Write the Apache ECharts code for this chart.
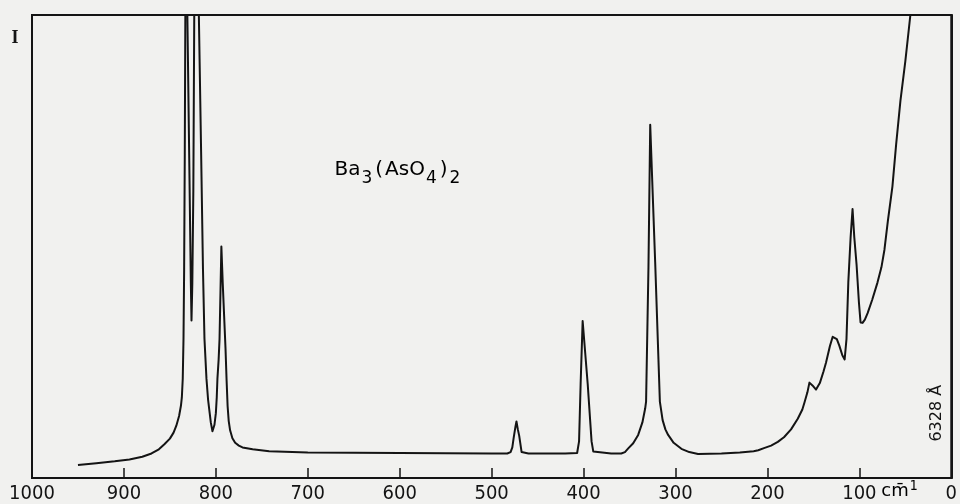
<!DOCTYPE html>
<html><head><meta charset="utf-8">
<script src="https://cdn.jsdelivr.net/npm/echarts@6/dist/echarts.min.js"></script>
<style>html,body{margin:0;padding:0;background:#f1f1ef;} #c{width:960px;height:504px;}</style>
</head><body><div id="c"></div>
<script>
// Raman spectrum of Ba3(AsO4)2, 6328 Å excitation
const wavenumbers = [950, 930, 910, 894, 880, 870, 862, 856, 850, 846, 843, 840, 838, 837, 836, 835.2, 834.5, 833.8, 833.2, 831, 828.5, 827.2, 826.5, 825.6, 824.5, 823.5, 818.5, 816, 814, 812.4, 810.2, 808.5, 807, 805.5, 803.7, 801.5, 800, 799, 798.3, 797, 796, 795, 794, 792.5, 791, 789.5, 788.3, 787.2, 786, 784.5, 782, 779, 775, 771, 760, 742, 700, 600, 500, 483, 479.4, 477.5, 476, 474, 473, 471.5, 470, 468, 467.4, 460, 420, 407, 405.6, 404.9, 403.2, 401, 395.5, 391.3, 389.4, 388, 370, 359, 355, 351.4, 346, 340.6, 336, 333, 332, 329.4, 327.5, 322.1, 317, 314, 311, 308, 302, 293.6, 285, 275.5, 250, 230, 215, 210, 203, 196, 188.7, 182, 174.3, 167, 162, 159.7, 156.5, 154.3, 151, 147.1, 143, 139, 136.3, 132, 129, 127, 124.5, 121.8, 118.5, 116, 114, 112, 109.5, 107.4, 105.5, 103, 100.5, 98.7, 96.5, 94, 91, 86, 80.3, 76, 72.7, 69, 64, 60, 55.3, 50, 44.5, 40];
const intensities = [2.8, 3.2, 3.6, 4.0, 4.6, 5.3, 6.2, 7.3, 8.5, 9.8, 11.3, 13.4, 15.6, 17.4, 21.5, 30, 45, 70, 100, 100, 62, 42, 34, 42, 62, 100, 100, 70, 45, 30.1, 21.4, 17, 14.5, 12, 10.1, 11.5, 14, 17.5, 21.4, 25.5, 30, 40, 50, 42, 35, 28, 21, 15.5, 12.3, 10.3, 8.6, 7.6, 7.0, 6.6, 6.2, 5.8, 5.5, 5.4, 5.3, 5.3, 5.6, 6.6, 8.7, 11.2, 12.2, 10.5, 9.1, 6.4, 5.6, 5.3, 5.3, 5.4, 5.7, 7.9, 20.3, 33.9, 20.3, 7.9, 5.7, 5.4, 5.3, 5.3, 5.6, 6.4, 7.5, 9.3, 12, 15, 16.5, 45.6, 76.3, 46.6, 16.5, 12.5, 10.5, 9.3, 7.6, 6.3, 5.6, 5.2, 5.3, 5.5, 5.8, 6.0, 6.5, 7.0, 7.8, 8.8, 10.5, 12.8, 14.8, 16.3, 18.5, 20.6, 20, 19.1, 20.5, 23, 24.9, 28.5, 30.5, 30.8, 30, 28.6, 26.5, 25.6, 30, 42.3, 52, 58.1, 52, 46, 38, 33.6, 33.5, 34.2, 35.6, 38.5, 42.2, 45.5, 49.3, 55.5, 63, 72, 81.5, 90, 100, 110];
const xTickValues = [0, 100, 200, 300, 400, 500, 600, 700, 800, 900, 1000];
const yAxisName = 'I';
const unitLabel = 'cm\u0304';
const unitSup = '1';
const laserLabel = '6328 Å';
const formulaParts = [['n', 'Ba'], ['s', '3'], ['p', '('], ['n', 'AsO'], ['s', '4'], ['p', ')'], ['s', '2']];

const ink = '#141414';
const numFont = "'Liberation Sans Narrow','DejaVu Sans Condensed','Liberation Sans',sans-serif";
const chart = echarts.init(document.getElementById('c'), null, {renderer: 'canvas'});
chart.setOption({
  animation: false,
  backgroundColor: '#f1f1ef',
  grid: {left: 32, right: 6, top: 15, bottom: 26, show: true, borderColor: ink, borderWidth: 2, backgroundColor: 'transparent'},
  xAxis: {
    type: 'value', min: 0, max: 1000, interval: 100, inverse: true,
    axisLine: {show: true, lineStyle: {color: ink, width: 2}},
    axisTick: {show: true, inside: true, length: 10, lineStyle: {color: ink, width: 1.5}},
    axisLabel: {show: true, color: ink, fontSize: 20, fontFamily: numFont, margin: 6,
      formatter: v => xTickValues.indexOf(v) >= 0 ? String(v) : ''},
    splitLine: {show: false}
  },
  yAxis: {
    type: 'value', min: 0, max: 100,
    axisLine: {show: true, lineStyle: {color: ink, width: 2}},
    axisTick: {show: false}, axisLabel: {show: false}, splitLine: {show: false}
  },
  series: [{
    type: 'line', symbol: 'none', clip: true, smooth: false,
    lineStyle: {color: ink, width: 2, join: 'round'},
    data: wavenumbers.map((w, i) => [w, intensities[i]])
  }]
});

function px(x, y) { return chart.convertToPixel({gridIndex: 0}, [x, y]); }
const pI = px(1000, 95);
const pF = px(671, 66.5);
const pU = px(100, 0);
const pL = px(0, 14);
const fF = "'DejaVu Sans',sans-serif";
const rich = {
  n: {fontFamily: fF, fontSize: 20, color: ink, padding: [0, 1, 0, 0]},
  p: {fontFamily: fF, fontSize: 20, color: ink, padding: [0, 2, 0, 3]},
  s: {fontFamily: fF, fontSize: 17, color: ink, padding: [16, 0, 0, 0]}
};
chart.setOption({
  graphic: [
    {type: 'text', x: pI[0] - 17, y: pI[1], style: {text: yAxisName, fill: ink, font: "bold 18px 'Liberation Serif',serif", textAlign: 'center', textVerticalAlign: 'middle'}},
    {type: 'text', x: pF[0], y: pF[1], style: {text: formulaParts.map(p => '{' + p[0] + '|' + p[1] + '}').join(''), rich: rich, textVerticalAlign: 'middle'}},
    {type: 'text', x: pU[0] + 22, y: pU[1] + 13, style: {text: '{u|' + unitLabel + '}{s|' + unitSup + '}', textVerticalAlign: 'middle',
      rich: {u: {fontFamily: fF, fontSize: 18, color: ink}, s: {fontFamily: numFont, fontSize: 14, color: ink, padding: [0, 0, 10, 1]}}}},
    {type: 'text', x: pL[0] - 14, y: pL[1], rotation: Math.PI / 2, style: {text: laserLabel, fill: ink, font: "16px 'DejaVu Sans',sans-serif", textAlign: 'center', textVerticalAlign: 'middle'}}
  ]
});
</script></body></html>
